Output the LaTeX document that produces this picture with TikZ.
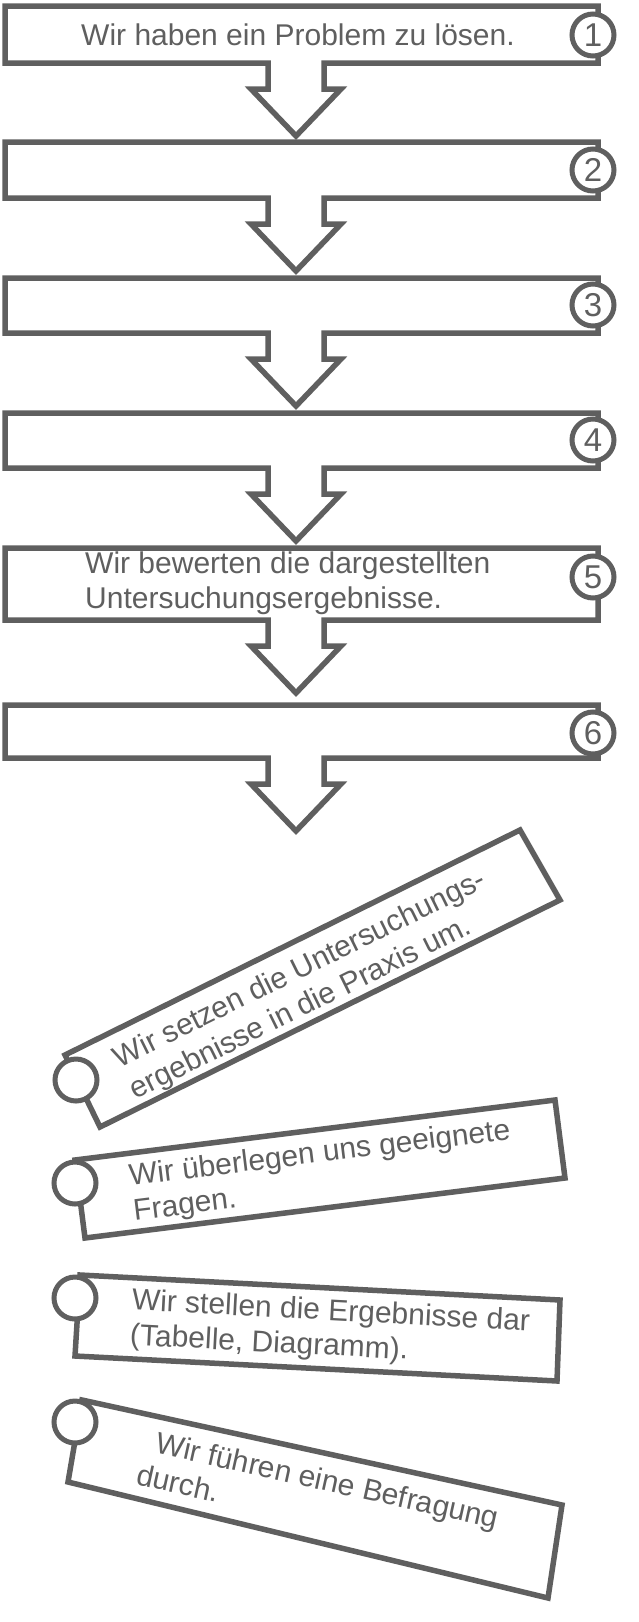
\documentclass[tikz,border=0pt]{standalone}
\usepackage{fontspec}
\setmainfont{Liberation Sans}
\definecolor{ink}{HTML}{5F5F5F}
\begin{document}
\begin{tikzpicture}[x=1pt,y=-1pt,
  boxline/.style={draw=ink,line width=5.5pt,line join=miter,fill=white},
  numc/.style={circle,draw=ink,line width=5pt,fill=white,minimum size=42pt,inner sep=0pt,text=ink,font=\fontsize{33}{33}\selectfont},
  lbl/.style={text=ink,font=\fontsize{30}{35}\selectfont,align=left,inner sep=0pt}]
\useasboundingbox (0,0) rectangle (638,1622);
\newcommand\flowbox[4]{%
  \draw[boxline] (5,#1) -- (598,#1) -- (598,#2) -- (324,#2) -- (324,#2+26) -- (341,#2+26) -- (296,#2+73) -- (251,#2+26) -- (268,#2+26) -- (268,#2) -- (5,#2) -- cycle;
  \node[numc] (n#3) at (593,#4) {#3};}
\flowbox{6}{63}{1}{35}
\flowbox{142}{198}{2}{170}
\flowbox{278}{333}{3}{305}
\flowbox{413}{468}{4}{440}
\flowbox{548}{620}{5}{577}
\flowbox{705}{758}{6}{733}
\node[lbl,anchor=center] (t1) at (298,35) {Wir haben ein Problem zu lösen.};
\node[lbl,anchor=west] (t5) at (85,583) {Wir bewerten die dargestellten\\Untersuchungsergebnisse.};
% tilted boxes
\draw[boxline] (65,1055) -- (520,830) -- (560,900) -- (100,1127) -- cycle;
\node[numc] (a1) at (76,1080) {};
\node[lbl,rotate=26.3] (ta) at (308,986) {Wir setzen die Untersuchungs-\\ergebnisse in die Praxis um.};
\draw[boxline] (75,1160) -- (555,1100) -- (565,1178) -- (85,1238) -- cycle;
\node[numc] (b1) at (75,1183) {};
\node[lbl,rotate=7] (tb) at (322,1172) {Wir überlegen uns geeignete\\Fragen.};
\draw[boxline] (80,1275) -- (560,1300) -- (557,1381) -- (75,1356) -- cycle;
\node[numc] (c1) at (75,1298) {};
\node[lbl,rotate=-3] (tc) at (330,1330) {Wir stellen die Ergebnisse dar\\(Tabelle, Diagramm).};
\draw[boxline] (82,1400) -- (562,1505) -- (548,1598) -- (68,1482) -- cycle;
\node[numc] (d1) at (75,1422) {};
\node[lbl,rotate=-12.5] (td) at (318,1496) {\hspace*{12pt}Wir führen eine Befragung\\durch.};
\end{tikzpicture}
\end{document}
